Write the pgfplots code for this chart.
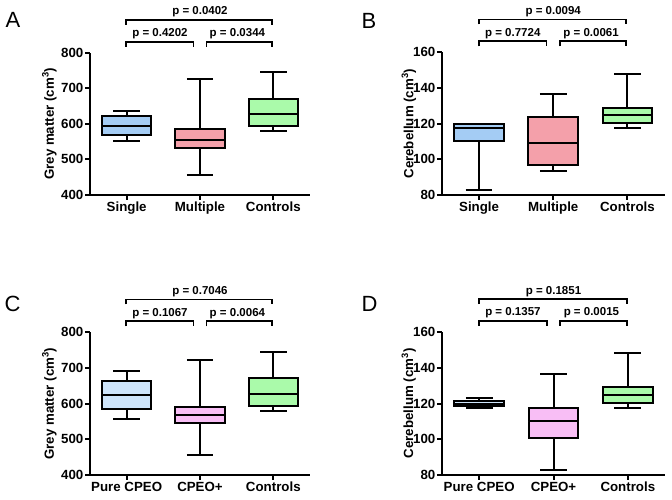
\documentclass[border=0pt]{standalone}
\usepackage{fontspec}
\setmainfont{Liberation Sans}
\usepackage{pgfplots}
\pgfplotsset{compat=1.18}
\usepgfplotslibrary{statistics}

\definecolor{cSingle}{HTML}{A4CCF4}
\definecolor{cMulti}{HTML}{F4A0AA}
\definecolor{cCtrl}{HTML}{AAFAAA}
\definecolor{cPure}{HTML}{CDE4FA}
\definecolor{cPlus}{HTML}{F8BEF5}

\pgfplotsset{
  prism/.style={
    scale only axis, clip=false,
    axis x line=bottom, axis y line=left,
    axis line style={-, line width=2pt, black},
    xmin=0.5, xmax=3.5, xtick={1,2,3},
    tick align=outside, major tick length=5pt,
    major tick style={line width=2pt, black},
    tick label style={font=\fontsize{13.3}{15}\selectfont\bfseries},
    /pgf/number format/assume math mode=true,
    yticklabel style={inner sep=1.5pt},
    xticklabel style={inner sep=2pt},
    ylabel style={font=\fontsize{13.3}{15}\selectfont\bfseries, anchor=base},
    boxplot/draw direction=y,
    boxplot/box extend=0.67,
    boxplot/whisker extend=0.36,
  },
  bx/.style={draw=black, line width=2pt, fill=#1, solid},
}

\newcommand\brackets[3]{%
  \draw[line width=1.8pt] (rel axis cs:0.165,1.195) -- (rel axis cs:0.165,1.23) -- (rel axis cs:0.828,1.23) -- (rel axis cs:0.828,1.195);
  \draw[line width=1.8pt] (rel axis cs:0.165,1.042) -- (rel axis cs:0.165,1.077) -- (rel axis cs:0.47,1.077) -- (rel axis cs:0.47,1.042);
  \draw[line width=1.8pt] (rel axis cs:0.53,1.042) -- (rel axis cs:0.53,1.077) -- (rel axis cs:0.828,1.077) -- (rel axis cs:0.828,1.042);
  \node[anchor=base, inner sep=0pt, font=\fontsize{11.5}{13}\selectfont\bfseries] at (rel axis cs:0.5,1.265) {p = #1};
  \node[anchor=base, inner sep=0pt, font=\fontsize{11.5}{13}\selectfont\bfseries] at (rel axis cs:0.318,1.114) {p = #2};
  \node[anchor=base, inner sep=0pt, font=\fontsize{11.5}{13}\selectfont\bfseries] at (rel axis cs:0.67,1.114) {p = #3};
}

\begin{document}
\begin{tikzpicture}
\path[use as bounding box] (0,0) rectangle (672pt,500pt);

% ---------------- A ----------------
\begin{axis}[prism, at={(90pt,305pt)}, anchor=south west,
  width=220pt, height=142.3pt,
  ymin=400, ymax=800, ytick={400,500,600,700,800},
  xticklabels={Single,Multiple,Controls},
  ylabel={Grey matter (cm\textsuperscript{3})},
  ylabel style={at={(axis description cs:-0.164,0.5)}}]
\addplot[bx=cSingle, boxplot prepared={lower whisker=552, lower quartile=570, median=593, upper quartile=622, upper whisker=637, draw position=1}] coordinates {};
\addplot[bx=cMulti, boxplot prepared={lower whisker=456, lower quartile=533, median=554, upper quartile=585, upper whisker=725, draw position=2}] coordinates {};
\addplot[bx=cCtrl, boxplot prepared={lower whisker=580.5, lower quartile=593, median=626.5, upper quartile=671, upper whisker=745.5, draw position=3}] coordinates {};
\brackets{0.0402}{0.4202}{0.0344}
\end{axis}

% ---------------- B ----------------
\begin{axis}[prism, at={(442pt,305pt)}, anchor=south west,
  width=222.5pt, height=142.7pt,
  ymin=80, ymax=160, ytick={80,100,120,140,160},
  xticklabels={Single,Multiple,Controls},
  ylabel={Cerebellum (cm\textsuperscript{3})},
  ylabel style={at={(axis description cs:-0.129,0.5)}}]
\addplot[bx=cSingle, boxplot prepared={lower whisker=82.8, lower quartile=110.5, median=117.7, upper quartile=119.8, upper whisker=120.0, draw position=1}] coordinates {};
\addplot[bx=cMulti, boxplot prepared={lower whisker=93.3, lower quartile=96.6, median=109.3, upper quartile=123.5, upper whisker=136.8, draw position=2}] coordinates {};
\addplot[bx=cCtrl, boxplot prepared={lower whisker=117.5, lower quartile=120.2, median=124.8, upper quartile=129, upper whisker=148, draw position=3}] coordinates {};
\brackets{0.0094}{0.7724}{0.0061}
\end{axis}

% ---------------- C ----------------
\begin{axis}[prism, at={(90pt,25pt)}, anchor=south west,
  width=220pt, height=142.7pt,
  ymin=400, ymax=800, ytick={400,500,600,700,800},
  xticklabels={Pure CPEO,CPEO+,Controls},
  ylabel={Grey matter (cm\textsuperscript{3})},
  ylabel style={at={(axis description cs:-0.164,0.5)}}]
\addplot[bx=cPure, boxplot prepared={lower whisker=557, lower quartile=584.5, median=624, upper quartile=662.5, upper whisker=691.5, draw position=1}] coordinates {};
\addplot[bx=cPlus, boxplot prepared={lower whisker=456, lower quartile=547, median=569.5, upper quartile=589.5, upper whisker=722.5, draw position=2}] coordinates {};
\addplot[bx=cCtrl, boxplot prepared={lower whisker=580.5, lower quartile=593, median=626.5, upper quartile=671, upper whisker=745.5, draw position=3}] coordinates {};
\brackets{0.7046}{0.1067}{0.0064}
\end{axis}

% ---------------- D ----------------
\begin{axis}[prism, at={(442pt,25pt)}, anchor=south west,
  width=223pt, height=143pt,
  ymin=80, ymax=160, ytick={80,100,120,140,160},
  xticklabels={Pure CPEO,CPEO+,Controls},
  ylabel={Cerebellum (cm\textsuperscript{3})},
  ylabel style={at={(axis description cs:-0.129,0.5)}}]
\addplot[bx=cPure, boxplot prepared={lower whisker=117.7, lower quartile=118.4, median=120, upper quartile=121.4, upper whisker=123.3, draw position=1}] coordinates {};
\addplot[bx=cPlus, boxplot prepared={lower whisker=82.8, lower quartile=100.7, median=110.2, upper quartile=117.4, upper whisker=136.7, draw position=2}] coordinates {};
\addplot[bx=cCtrl, boxplot prepared={lower whisker=117.5, lower quartile=120.2, median=124.8, upper quartile=129, upper whisker=148, draw position=3}] coordinates {};
\brackets{0.1851}{0.1357}{0.0015}
\end{axis}

\node[font=\fontsize{22}{24}\selectfont] at (13pt,480pt) {A};
\node[font=\fontsize{22}{24}\selectfont] at (369pt,479pt) {B};
\node[font=\fontsize{22}{24}\selectfont] at (12.5pt,196pt) {C};
\node[font=\fontsize{22}{24}\selectfont] at (369.5pt,196.5pt) {D};
\end{tikzpicture}
\end{document}
